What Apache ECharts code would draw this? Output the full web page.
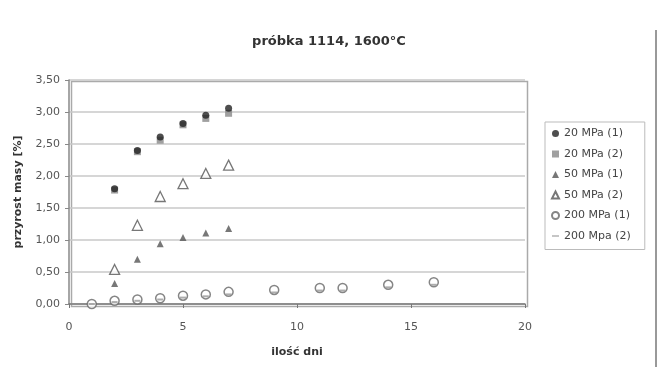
<!DOCTYPE html>
<html>
<head>
<meta charset="utf-8">
<script src="https://cdn.jsdelivr.net/npm/echarts@6/dist/echarts.min.js"></script>
<style>html,body{margin:0;padding:0;background:#fff;}#c{width:658px;height:367px;}</style>
</head>
<body>
<div id="c"></div>
<script>
const seriesNames = ['20 MPa (1)', '20 MPa (2)', '50 MPa (1)', '50 MPa (2)', '200 MPa (1)', '200 Mpa (2)'];
const days20 = [2, 3, 4, 5, 6, 7];
const mpa20_1 = [1.80, 2.40, 2.61, 2.82, 2.95, 3.06];
const mpa20_2 = [1.78, 2.38, 2.56, 2.80, 2.90, 2.98];
const days50 = [2, 3, 4, 5, 6, 7];
const mpa50_1 = [0.32, 0.70, 0.94, 1.04, 1.11, 1.18];
const mpa50_2 = [0.54, 1.23, 1.68, 1.88, 2.04, 2.17];
const days200 = [1, 2, 3, 4, 5, 6, 7, 9, 11, 12, 14, 16];
const mpa200_1 = [0.00, 0.05, 0.07, 0.09, 0.13, 0.15, 0.19, 0.22, 0.25, 0.25, 0.30, 0.34];
const mpa200_2 = [0.00, 0.03, 0.05, 0.07, 0.10, 0.12, 0.15, 0.18, 0.21, 0.21, 0.26, 0.30];
const yTicks = [0, 0.5, 1, 1.5, 2, 2.5, 3, 3.5];
const xTicks = [0, 5, 10, 15, 20];

const pair = (xs, ys) => xs.map((x, i) => [x, ys[i]]);
const font = 'DejaVu Sans, Arial, sans-serif';

const chart = echarts.init(document.getElementById('c'));
chart.setOption({
  animation: false,
  backgroundColor: '#fff',
  title: {
    text: 'próbka 1114, 1600°C',
    left: 324, top: 30, textAlign: 'center',
    textStyle: { fontFamily: font, fontSize: 13, fontWeight: 'bold', color: '#333' }
  },
  grid: { left: 69, right: 133, top: 80, bottom: 63 },
  legend: {
    orient: 'vertical',
    left: 545, top: 122,
    padding: [6, 14, 8, 6],
    borderColor: '#bbb', borderWidth: 1,
    itemGap: 9.5, itemWidth: 7, itemHeight: 7,
    textStyle: { fontFamily: font, fontSize: 11, color: '#444' },
    data: [
      { name: seriesNames[0], icon: 'circle' },
      { name: seriesNames[1], icon: 'rect' },
      { name: seriesNames[2], icon: 'triangle' },
      { name: seriesNames[3], icon: 'triangle' },
      { name: seriesNames[4], icon: 'circle' },
      { name: seriesNames[5], icon: 'path://M0,4 L10,4 L10,6 L0,6 Z' }
    ]
  },
  xAxis: {
    type: 'value', min: 0, max: 20, interval: 5,
    name: 'ilość dni', nameLocation: 'middle', nameGap: 43,
    nameTextStyle: { fontFamily: font, fontSize: 11, fontWeight: 'bold', color: '#333' },
    axisLine: { show: true, lineStyle: { color: '#777', width: 1.5 } },
    axisTick: { show: true, length: 4, lineStyle: { color: '#777' } },
    axisLabel: { fontFamily: font, fontSize: 11, color: '#555', margin: 18 },
    splitLine: { show: false }
  },
  yAxis: {
    type: 'value', min: 0, max: 3.5, interval: 0.5,
    name: 'przyrost masy [%]', nameLocation: 'middle', nameGap: 45,
    nameTextStyle: { fontFamily: font, fontSize: 11, fontWeight: 'bold', color: '#333' },
    axisLine: { show: true, lineStyle: { color: '#888', width: 1.5 } },
    axisTick: { show: true, length: 4, inside: false, lineStyle: { color: '#888' } },
    axisLabel: { fontFamily: font, fontSize: 11, color: '#555', margin: 9,
      formatter: v => v.toFixed(2).replace('.', ',') },
    splitLine: { show: true, lineStyle: { color: '#c8c8c8', width: 1.5 } }
  },
  graphic: [
    { type: 'rect', left: 69, top: 79, shape: { width: 456, height: 225 }, style: { fill: 'none', stroke: '#aaa', lineWidth: 1.5 }, silent: true, z: -1 },
    { type: 'line', shape: { x1: 656, y1: 30, x2: 656, y2: 367 }, style: { stroke: '#999', lineWidth: 2 } }
  ],
  series: [
    { name: seriesNames[0], type: 'scatter', data: pair(days20, mpa20_1), symbol: 'circle', symbolSize: 7,
      itemStyle: { color: '#222' }, z: 5 },
    { name: seriesNames[1], type: 'scatter', data: pair(days20, mpa20_2), symbol: 'rect', symbolSize: 7,
      itemStyle: { color: '#888' }, z: 4 },
    { name: seriesNames[2], type: 'scatter', data: pair(days50, mpa50_1), symbol: 'triangle', symbolSize: 7,
      itemStyle: { color: '#555' } },
    { name: seriesNames[3], type: 'scatter', data: pair(days50, mpa50_2), symbol: 'triangle', symbolSize: 10,
      itemStyle: { color: '#fff', borderColor: '#555', borderWidth: 1.3 } },
    { name: seriesNames[4], type: 'scatter', data: pair(days200, mpa200_1), symbol: 'circle', symbolSize: 9,
      itemStyle: { color: '#fff', borderColor: '#666', borderWidth: 1.5 } },
    { name: seriesNames[5], type: 'scatter', data: pair(days200, mpa200_2), symbol: 'rect', symbolSize: [6, 2],
      itemStyle: { color: '#999' } }
  ]
});
</script>
</body>
</html>
